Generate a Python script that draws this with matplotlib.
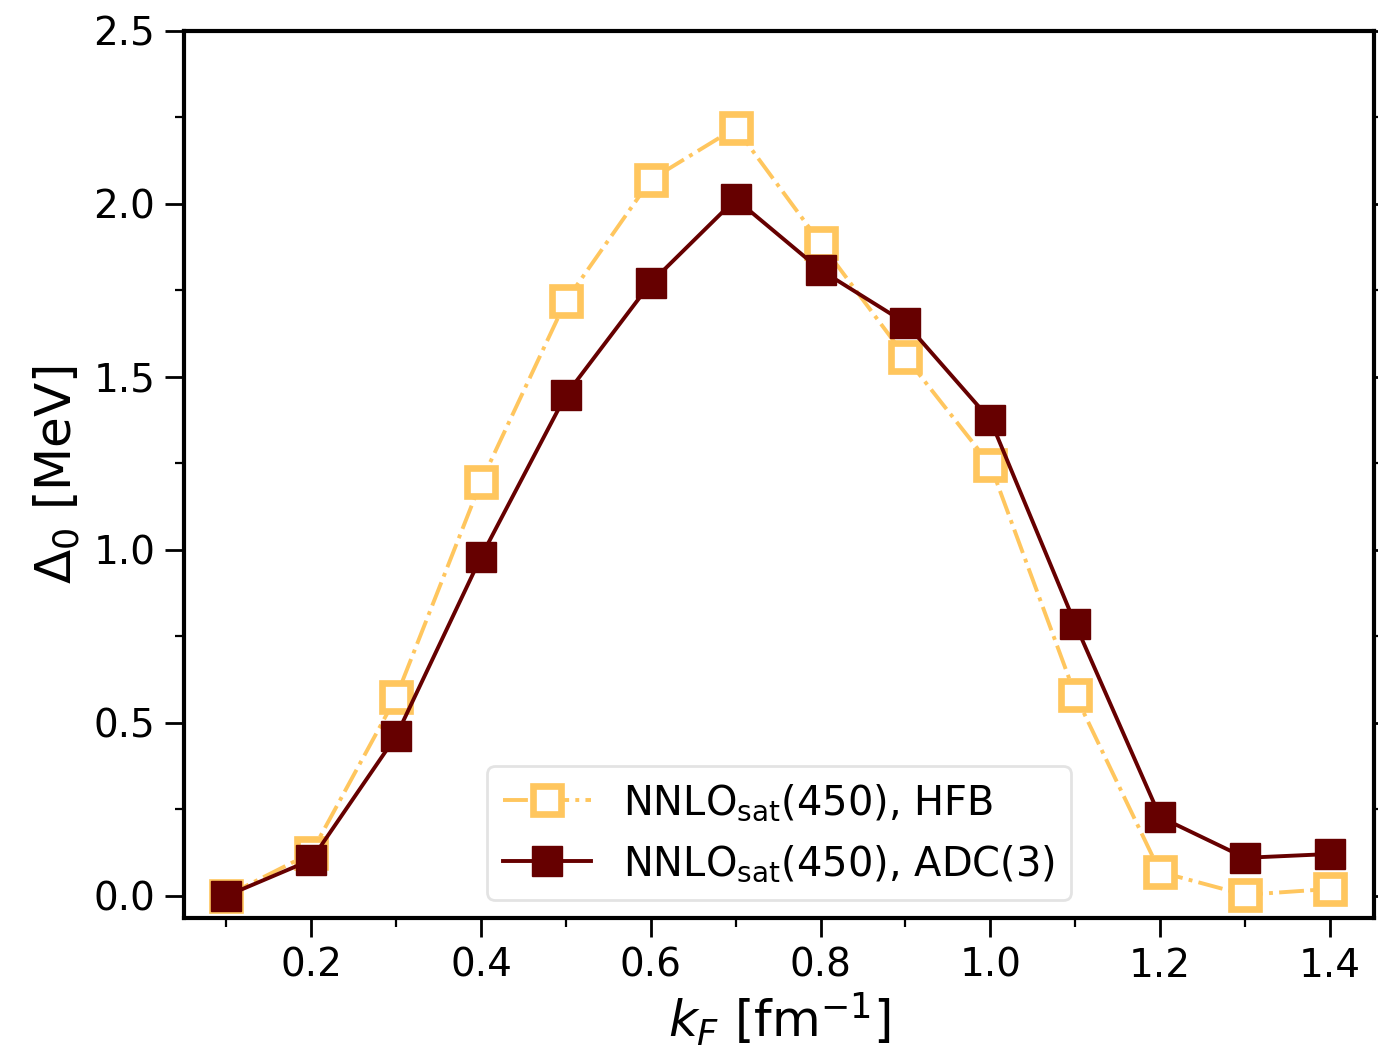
import matplotlib
matplotlib.use("Agg")
import matplotlib.pyplot as plt
from matplotlib.ticker import MultipleLocator

kF = [0.1, 0.2, 0.3, 0.4, 0.5, 0.6, 0.7, 0.8, 0.9, 1.0, 1.1, 1.2, 1.3, 1.4]
gap_hfb = [0.0, 0.124, 0.575, 1.197, 1.72, 2.07, 2.22, 1.887, 1.558, 1.246, 0.581, 0.069, 0.003, 0.02]
gap_adc = [0.0, 0.104, 0.462, 0.98, 1.448, 1.772, 2.014, 1.809, 1.656, 1.376, 0.786, 0.228, 0.11, 0.121]
label_hfb = r"NNLO$_{\mathrm{sat}}$(450), HFB"
label_adc = r"NNLO$_{\mathrm{sat}}$(450), ADC(3)"

c_hfb = "#FFC65E"
c_adc = "#660000"

fig = plt.figure(figsize=(6.89, 5.265), dpi=200)
ax = fig.add_axes([0.1335, 0.1282, 0.8636, 0.8424])

ax.plot(kF, gap_hfb, linestyle="-.", color=c_hfb, lw=1.4, marker="s", ms=10,
        mfc="white", mec=c_hfb, mew=2.4, label=label_hfb)
ax.plot(kF, gap_adc, linestyle="-", color=c_adc, lw=1.4, marker="s", ms=10.5,
        mfc=c_adc, mec=c_adc, mew=0.5, label=label_adc)

ax.set_xlim(0.05, 1.452)
ax.set_ylim(-0.064, 2.5)
ax.xaxis.set_major_locator(MultipleLocator(0.2))
ax.xaxis.set_minor_locator(MultipleLocator(0.1))
ax.yaxis.set_major_locator(MultipleLocator(0.5))
ax.yaxis.set_minor_locator(MultipleLocator(0.25))
ax.tick_params(which="major", length=6.8, width=1.0, labelsize=14, direction="out",
               right=True, top=False)
ax.tick_params(which="minor", length=3.2, width=0.8, direction="out", right=True, top=False)
for s in ax.spines.values():
    s.set_linewidth(1.5)

ax.set_xlabel(r"$k_F$ [fm$^{-1}$]", fontsize=18, labelpad=2)
ax.set_ylabel(r"$\Delta_0$ [MeV]", fontsize=18, labelpad=4)

leg = ax.legend(loc="lower center", bbox_to_anchor=(0.5, 0.0), fontsize=14.4,
                frameon=True, fancybox=True, borderaxespad=0.45, handlelength=2.2)
leg.get_frame().set_edgecolor("#dddddd")

fig.savefig("out.png", dpi=200)
